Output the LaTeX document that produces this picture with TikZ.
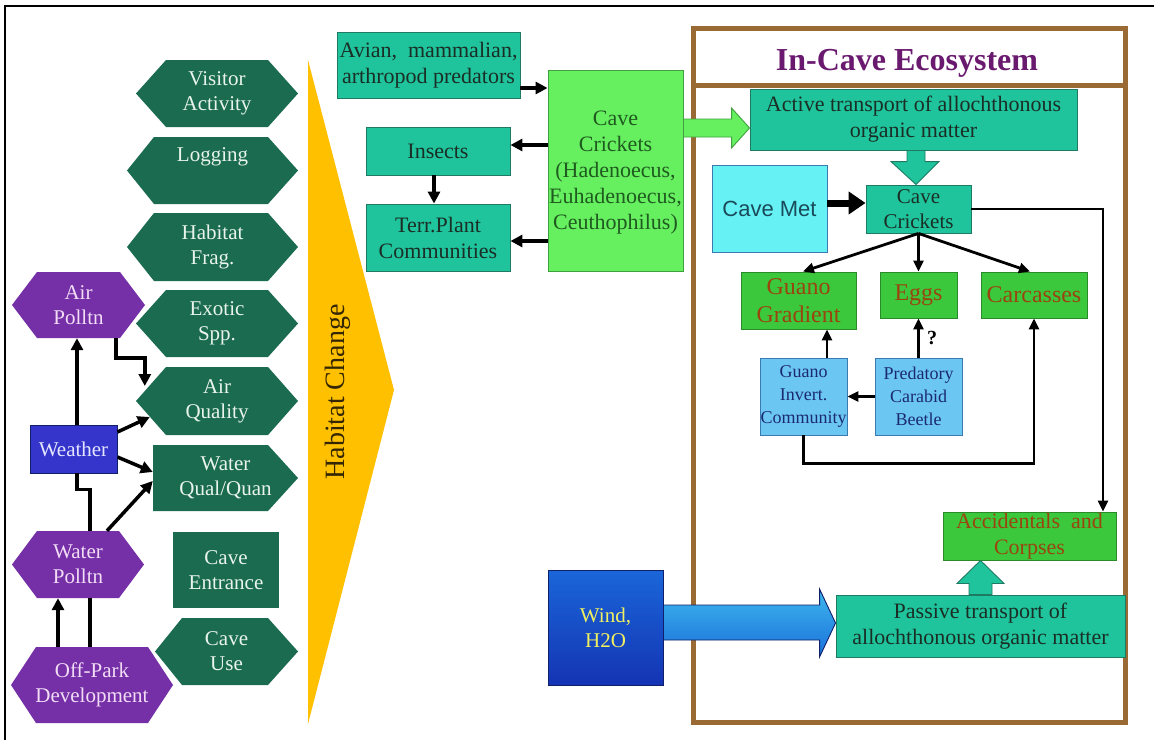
\documentclass[tikz,border=0pt]{standalone}
\usepackage{fontspec}
\setmainfont{Liberation Serif}
\newfontfamily\arialf{Liberation Sans}
\usetikzlibrary{arrows.meta,calc}
\definecolor{hexg}{HTML}{1B6B50}
\definecolor{hexgtxt}{HTML}{E8F4EC}
\definecolor{hexp}{HTML}{7530A8}
\definecolor{hexptxt}{HTML}{F2DDF5}
\definecolor{weatb}{HTML}{3535CC}
\definecolor{weattxt}{HTML}{E5E5FF}
\definecolor{tealc}{HTML}{1FC49C}
\definecolor{tealdk}{HTML}{1E7A62}
\definecolor{tealtxt}{HTML}{1A2E25}
\definecolor{lgreen}{HTML}{66F060}
\definecolor{lgreendk}{HTML}{40A040}
\definecolor{lgreentxt}{HTML}{1F5A1F}
\definecolor{cyanc}{HTML}{66F2F5}
\definecolor{cyantxt}{HTML}{1A4A5A}
\definecolor{grnc}{HTML}{3CC83C}
\definecolor{grndk}{HTML}{2A8A2A}
\definecolor{grntxt}{HTML}{9A4510}
\definecolor{lblue}{HTML}{6CC6F2}
\definecolor{lbluedk}{HTML}{3A7AB0}
\definecolor{lbluetxt}{HTML}{1A2A70}
\definecolor{brownc}{HTML}{9A6A35}
\definecolor{titlec}{HTML}{6A1A6E}
\definecolor{habyel}{HTML}{FFC000}
\definecolor{habtxt}{HTML}{332600}
\definecolor{windtxt}{HTML}{F0F060}
\definecolor{windtop}{HTML}{1A66D8}
\definecolor{windmid}{HTML}{1CAAEA}
\definecolor{windbot}{HTML}{1434B4}
\definecolor{navy}{HTML}{10206A}
\tikzset{
  wh/.style 2 args={minimum width=#1,minimum height=#2},
  f18/.style={font=\fontsize{18}{23}\selectfont},
  f21/.style={font=\fontsize{21}{25}\selectfont},
  f22/.style={font=\fontsize{22}{26}\selectfont},
  f24/.style={font=\fontsize{24}{28}\selectfont},
  basebox/.style={rectangle, inner sep=0pt, align=center, line width=0.9pt},
  tealbox/.style={basebox, fill=tealc, draw=tealdk, text=tealtxt},
  lgbox/.style={basebox, fill=lgreen, draw=lgreendk, text=lgreentxt},
  cyanbox/.style={basebox, fill=cyanc, draw=lbluedk, text=cyantxt},
  grnbox/.style={basebox, fill=grnc, draw=grndk, text=grntxt},
  lbbox/.style={basebox, fill=lblue, draw=lbluedk, text=lbluetxt},
  hextext/.style={rectangle, inner sep=0pt, align=center, f21},
  larr/.style={line width=3.5pt, -{Triangle[length=12pt,width=12pt]}},
  lline/.style={line width=3.5pt},
  rarr/.style={line width=2.8pt, -{Triangle[length=11pt,width=10pt]}},
}
\newcommand\hexnode[9]{%
  \fill[#8] ({#2-#4/2},#3) -- ({#2-#4/2+#6},{#3-#5/2}) -- ({#2+#4/2-#7},{#3-#5/2})
    -- ({#2+#4/2},#3) -- ({#2+#4/2-#7},{#3+#5/2}) -- ({#2-#4/2+#6},{#3+#5/2}) -- cycle;
  \node[hextext, text=#8txt, minimum width=#4, minimum height=#5] (#1) at (#2,#3) {#9};}
\begin{document}
\begin{tikzpicture}[x=1pt,y=-1pt]
\fill[white] (0,0) rectangle (1154,740);
\useasboundingbox (0,0) rectangle (1154,740);
\draw[line width=2pt] (5,740) -- (5,6) -- (1154,6);

% ---- Habitat change triangle
\fill[habyel] (308,60) -- (394,390) -- (308,724) -- cycle;
\node[rotate=90, font=\fontsize{28}{32}\selectfont, text=habtxt] (habc) at (338,392) {Habitat Change};

% ---- left green hexagons
\hexnode{visit}{217}{93.5}{162}{67}{30}{30}{hexg}{Visitor\\Activity}
\hexnode{logg}{212.5}{170.5}{171}{67}{27}{30}{hexg}{Logging\\\strut}
\hexnode{habf}{212.5}{247}{171}{68}{27}{30}{hexg}{Habitat\\Frag.}
\hexnode{exot}{217}{323.5}{162}{67}{30}{30}{hexg}{Exotic\\Spp.}
\hexnode{airq}{217}{401}{162}{68}{30}{30}{hexg}{Air\\Quality}
\hexnode{watq}{225.5}{478}{145}{66}{0}{30}{hexg}{Water\\Qual/Quan}
\node[basebox, fill=hexg, text=hexgtxt, f21, wh={106}{76}] (cent) at (226,570) {Cave\\Entrance};
\hexnode{cuse}{226.5}{651.5}{143}{67}{27}{30}{hexg}{Cave\\Use}

% ---- left purple nodes
\hexnode{airp}{78.5}{305}{133}{66}{25}{25}{hexp}{Air\\Polltn}
\node[basebox, fill=weatb, draw=navy, text=weattxt, f21, wh={87}{48}] (weat) at (73.5,449) {Weather};
\hexnode{watp}{78}{564.5}{132}{67}{25}{25}{hexp}{Water\\Polltn}
\hexnode{offp}{92}{685}{162}{76}{25}{25}{hexp}{Off-Park\\Development}

% ---- left connectors
\draw[larr] ($(weat.north)+(3.5,0)$) -- ($(airp.south)+(-1.5,0)$);
\draw[larr] ($(airp.south)+(37.5,0)$) -- ++(0,20) -| ($(airq.west)+(9,-15)$);
\draw[larr] ($(weat.east)+(0,-17)$) -- ($(airq.west)+(14,16)$);
\draw[larr] ($(weat.east)+(0,8)$) -- ($(watq.west)+(0,-6)$);
\draw[larr] ($(watp.north)+(29,0)$) -- ($(watq.west)+(0,3)$);
\draw[lline] ($(offp.north)+(-2,0)$) -- ($(watp.south)+(12,0)$);
\draw[lline] ($(watp.north)+(12,0)$) |- ($(weat.south)+(3.5,16)$) -- ($(weat.south)+(3.5,0)$);
\draw[larr] ($(offp.north)+(-34,0)$) -- ($(watp.south)+(-20,0)$);

% ---- in-cave frame
\node[draw=brownc, line width=5pt, inner sep=0pt, wh={432}{694}] (incave) at (909,375) {};
\draw[brownc, line width=5pt] ($(incave.north west)+(0,60)$) -- ($(incave.north east)+(0,60)$);
\node[font=\bfseries\fontsize{32}{36}\selectfont, text=titlec] (title) at ($(incave.north)+(-2,38)$) {In-Cave Ecosystem};

% ---- middle nodes
\node[tealbox, f22, wh={183}{66}] (avian) at (428.5,65) {Avian,\ \ mammalian,\\arthropod predators};
\node[lgbox, f22, wh={135}{201}] (ccbig) at (615.5,170.5) {\\[-8pt]Cave\\Crickets\\(Hadenoecus,\\Euhadenoecus,\\Ceuthophilus)};
\node[tealbox, f22, wh={144}{48}] (insects) at (438,151) {Insects};
\node[tealbox, f22, wh={144}{67}] (terr) at (438,237.5) {Terr.Plant\\Communities};

\coordinate (p1) at ($(avian.east)+(0,23)$);
\draw[larr] (p1) -- (p1 -| ccbig.west);
\coordinate (p2) at ($(insects.east)+(0,-6)$);
\draw[larr] (p2 -| ccbig.west) -- (p2);
\coordinate (p5) at ($(terr.east)+(0,3.5)$);
\draw[larr] (p5 -| ccbig.west) -- (p5);
\draw[larr] ($(insects.south)+(-4,0)$) -- ($(terr.north)+(-4,0)$);

% ---- right nodes
\node[tealbox, f22, wh={327}{61}] (active) at (913.5,119.5) {Active transport of allochthonous\\organic matter};
\node[cyanbox, font=\arialf\fontsize{22}{26}\selectfont, wh={115}{87}] (cmet) at (769.5,208.5) {Cave Met};
\node[tealbox, f21, wh={105}{48}] (ccsm) at (918.5,209) {Cave\\Crickets};
\node[grnbox, f24, wh={115}{57}] (guag) at (798.5,300.5) {Guano\\Gradient};
\node[grnbox, f24, wh={77}{46}] (eggs) at (918.5,295) {Eggs};
\node[grnbox, f24, wh={106}{46}] (carc) at (1034,295) {Carcasses};
\node[lbbox, f18, wh={87}{77}] (ginv) at (803.5,396.5) {Guano\\Invert.\\Community};
\node[lbbox, f18, wh={87}{77}] (pred) at (918.5,396.5) {Predatory\\Carabid\\Beetle};
\node[grnbox, f22, wh={173}{48}] (acc) at (1029.5,536) {Accidentals\ \ and\\Corpses};
\node[tealbox, f22, wh={289}{62}] (pass) at (980.5,626) {Passive transport of\\allochthonous organic matter};
\node[basebox, draw=navy, top color=windtop, middle color=windmid, bottom color=windbot, text=windtxt, f21, wh={115}{115}] (wind) at (605.5,627.5) {Wind,\\H2O};

% ---- block arrows
\coordinate (g0) at ($(ccbig.east)+(0,-42.5)$);
\coordinate (g1) at (g0 -| active.west);
\filldraw[fill=lgreen, draw=lgreendk, line width=0.9pt] ($(g0)+(0,-9)$) -- ($(g1)+(-18,-9)$) -- ($(g1)+(-18,-20)$) -- (g1) -- ($(g1)+(-18,20)$) -- ($(g1)+(-18,9)$) -- ($(g0)+(0,9)$) -- cycle;

\coordinate (g2) at ($(ccsm.north)+(-2.5,0)$);
\coordinate (g3) at (g2 |- active.south);
\filldraw[fill=tealc, draw=tealdk, line width=0.9pt] ($(g3)+(-9,0)$) -- ($(g2)+(-9,-23)$) -- ($(g2)+(-25,-23)$) -- (g2) -- ($(g2)+(23,-23)$) -- ($(g2)+(9,-23)$) -- ($(g3)+(9,0)$) -- cycle;

\coordinate (g4) at ($(wind.east)+(0,-4.5)$);
\coordinate (g5) at (g4 -| pass.west);
\shade[top color=windmid!85!white, bottom color=windtop!85!windmid, draw=navy, line width=0.9pt] ($(g4)+(0,-18)$) -- ($(g5)+(-16,-18)$) -- ($(g5)+(-16,-34)$) -- (g5) -- ($(g5)+(-16,34)$) -- ($(g5)+(-16,17)$) -- ($(g4)+(0,17)$) -- cycle;

\coordinate (g6) at (pass.north);
\coordinate (g7) at (g6 |- acc.south);
\filldraw[fill=tealc, draw=tealdk, line width=0.9pt] ($(g6)+(-11.5,0)$) -- ($(g7)+(-11.5,23)$) -- ($(g7)+(-23.5,23)$) -- (g7) -- ($(g7)+(23.5,23)$) -- ($(g7)+(11.5,23)$) -- ($(g6)+(11.5,0)$) -- cycle;

% ---- right connectors
\coordinate (p3) at ($(cmet.east)+(0,-5.5)$);
\draw[line width=7pt, -{Triangle[length=17pt,width=22pt]}] (p3) -- (p3 -| ccsm.west);
\draw[rarr] (ccsm.south) -- ($(guag.north)+(4.5,0)$);
\draw[rarr] (ccsm.south) -- (eggs.north);
\draw[rarr] (ccsm.south) -- ($(carc.north)+(-4,0)$);
\draw[rarr] (ccsm.east) -| ($(acc.north)+(73.5,0)$);
\draw[rarr] (pred.west) -- (ginv.east);
\coordinate (p4) at ($(ginv.north)+(23.5,0)$);
\draw[rarr] (p4) -- (p4 |- guag.south);
\draw[rarr] (pred.north) -- (eggs.south) node[midway, right=4pt, font=\bfseries\fontsize{20}{24}\selectfont] (qm) {?};
\draw[rarr] (ginv.south) -- ++(0,28) -| (carc.south);
\end{tikzpicture}
\end{document}
